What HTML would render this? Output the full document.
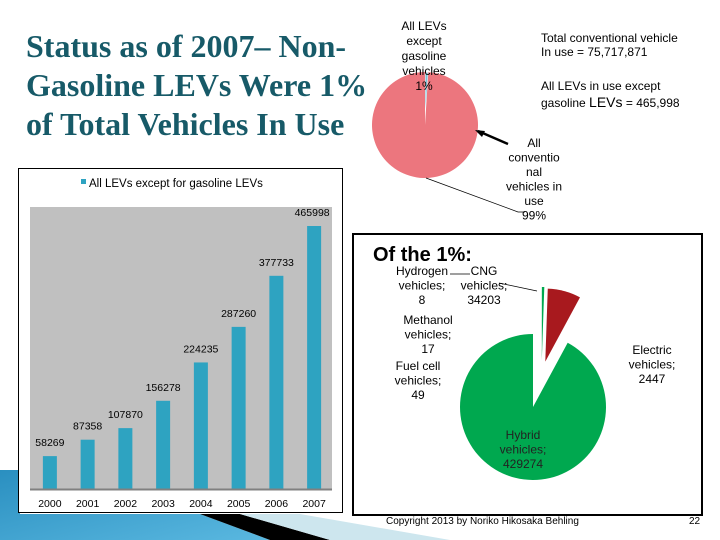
<!DOCTYPE html>
<html><head><meta charset="utf-8"><style>
body{margin:0;width:720px;height:540px;overflow:hidden;background:#fff;position:relative;font-family:"Liberation Sans",sans-serif}
.a{position:absolute}
</style></head><body>
<svg class="a" style="left:0;top:0" width="720" height="540">
<defs><linearGradient id="bg" x1="0" y1="0" x2="1" y2="1"><stop offset="0" stop-color="#2a8fc0"/><stop offset="1" stop-color="#5ab8e0"/></linearGradient></defs>
<polygon points="0,470 20,470 20,514 200,514 270,540 0,540" fill="url(#bg)"/>
<polygon points="200,514 240,514 330,540 270,540" fill="#000"/>
<polygon points="240,514 330,540 450,540 300,514" fill="#cde6ee"/>
</svg>
<div class="a" style="left:26px;top:27px;width:360px;white-space:nowrap;font-family:'Liberation Serif',serif;font-weight:bold;font-size:32px;line-height:39px;color:#175a68">Status as of 2007– Non-<br>Gasoline LEVs Were 1%<br>of Total Vehicles In Use</div>

<svg class="a" style="left:0;top:0" width="720" height="540" id="charts"></svg>

<div class="a" style="left:541px;top:31px;font-size:12px;line-height:14px;color:#000">Total conventional vehicle<br>In use = 75,717,871</div>
<div class="a" style="left:541px;top:78px;font-size:12px;line-height:16px;color:#000">All LEVs in use except<br>gasoline <span style="font-size:14px">LEVs</span> = 465,998</div>
<div class="a" style="left:386px;top:516px;font-size:10px;color:#000">Copyright 2013 by Noriko Hikosaka Behling</div>
<div class="a" style="left:689px;top:516px;font-size:10px;color:#000">22</div>

<script>
const years=['2000','2001','2002','2003','2004','2005','2006','2007'];
const levCounts=[58269,87358,107870,156278,224235,287260,377733,465998];
const topLabels=['All LEVs except gasoline vehicles 1%','All conventional vehicles in use 99%'];
const topShares=[1,99];
const oneCats=['Hydrogen vehicles; 8','Methanol vehicles; 17','Fuel cell vehicles; 49','Electric vehicles; 2447','CNG vehicles; 34203','Hybrid vehicles; 429274'];
const oneVals=[8,17,49,2447,34203,429274];

const NS='http://www.w3.org/2000/svg';
const svg=document.getElementById('charts');
function el(t,a,p){const e=document.createElementNS(NS,t);for(const k in a)e.setAttribute(k,a[k]);(p||svg).appendChild(e);return e;}
function txt(x,y,s,size,anchor,p,fill){const t=el('text',{x:x,y:y,'font-size':size,'text-anchor':anchor||'middle',fill:fill||'#000','font-family':'Liberation Sans, sans-serif'},p);t.textContent=s;return t;}

// ---- bar chart ----
const g=el('g',{});


const box=el('rect',{x:18.5,y:168.5,width:324,height:344,fill:'#fff',stroke:'#000'},g);


const lgSq=el('rect',{x:81,y:179,width:5,height:5,fill:'#2ea3c1'},g);


const lgT=txt(89,187,'All LEVs except for gasoline LEVs',11.5,'start',g);


const px0=30,px1=332,py0=207,py1=489;
const plot=el('rect',{x:px0,y:py0,width:px1-px0,height:py1-py0,fill:'#c0c0c0'},g);


const maxV=465998, hTop=263;
const yS=v=>py1-v/maxV*hTop;
const step=(px1-px0)/years.length;
const xC=i=>px0+step*(i+0.5)+1;
years.forEach((yr,i)=>{
  const b=el('rect',{x:xC(i)-7,y:yS(levCounts[i]),width:14,height:py1-yS(levCounts[i]),fill:'#2ea3c1'},g);
  
  
  const l=txt(xC(i)-(i==7?2:0),yS(levCounts[i])-10,String(levCounts[i]),10.5,'middle',g);
  
  
  const xl=txt(xC(i),507,yr,10.5,'middle',g);
  
  
});
const ax=el('line',{x1:px0,y1:py1+0.5,x2:px1,y2:py1+0.5,stroke:'#808080','stroke-width':2},g);



function arc(cx,cy,r,a0,a1){const p=a=>[cx+r*Math.sin(a),cy-r*Math.cos(a)];const s=p(a0),e=p(a1);const large=(a1-a0)>Math.PI?1:0;return `M${cx},${cy}L${s[0]},${s[1]}A${r},${r} 0 ${large} 1 ${e[0]},${e[1]}Z`;}

// ---- top pie ----
const tg=el('g',{});


const tTot=topShares.reduce((a,b)=>a+b,0);
let a=0;
const tCols=['#7bbfd6','#ec767e'];
topShares.forEach((v,i)=>{
  const a1=a+v/tTot*2*Math.PI;
  const p=el('path',{d:arc(425,125,53,a,a1),fill:tCols[i],stroke:i==0?'#fff':'none','stroke-width':1},tg);
  
  
  a=a1;
});
const ll=el('path',{d:'M426,178 L518,212 L525,212',stroke:'#000',fill:'none','stroke-width':0.7},tg);


const arr=el('path',{d:'M508,144 L478,131',stroke:'#000','stroke-width':2.5},tg);


el('polygon',{points:'475,130 485,131 482,137',fill:'#000'},tg);
['All LEVs','except','gasoline','vehicles','1%'].forEach((s,j)=>{const t=txt(424,30+j*15,s,12,'middle',tg);});
['All','conventio','nal','vehicles in','use','99%'].forEach((s,j)=>{const t=txt(534,147+j*14.5,s,12,'middle',tg);});

// ---- lower pie ----
const og=el('g',{});


const fr=el('rect',{x:353,y:234,width:349,height:281,fill:'#fff',stroke:'#000','stroke-width':2},og);


const tt=txt(373,261,'Of the 1%:',20,'start',og);
tt.setAttribute('font-weight','bold');


const oTot=oneVals.reduce((a,b)=>a+b,0);
const oCols=['#00a84f','#00a84f','#00a84f','#00a84f','#a8191e','#00a84f'];
const explode=[47,47,47,47,47,0];
let b0=0;
oneVals.forEach((v,i)=>{
  const b1=b0+v/oTot*2*Math.PI, mid=(b0+b1)/2;
  const cx=533+explode[i]*Math.sin(mid)+(i<4?8:0), cy=407-explode[i]*Math.cos(mid);
  const p=el('path',{d:arc(cx,cy,73,b0,b1),fill:oCols[i]},og);
  
  
  b0=b1;
});
const labs=[[422,275,['Hydrogen','vehicles;','8']],[428,324,['Methanol','vehicles;','17']],[418,370,['Fuel cell','vehicles;','49']],[652,354,['Electric','vehicles;','2447']],[484,275,['CNG','vehicles;','34203']],[523,439,['Hybrid','vehicles;','429274']]];
labs.forEach((L,i)=>L[2].forEach((s,j)=>{const t=txt(L[0],L[1]+j*14.5,s,12,'middle',og,i==5?'#222':'#000');}));
const cl=el('path',{d:'M450,274 L470,274 M499,283 L537,291',stroke:'#000','stroke-width':0.7},og);


</script>
</body></html>
